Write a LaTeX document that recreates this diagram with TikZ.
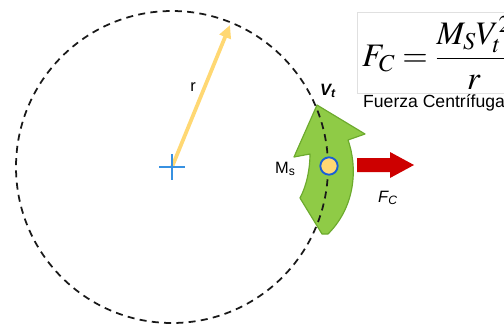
\documentclass[tikz,border=0pt]{standalone}
\usepackage{amsmath}
\usepackage{mathptmx}
\usepackage{fontspec}
\setmainfont{Liberation Sans}
\usetikzlibrary{arrows.meta, positioning}

\definecolor{leafgreen}{RGB}{143,203,70}
\definecolor{leafedge}{RGB}{108,170,45}
\definecolor{sandyellow}{RGB}{255,216,115}
\definecolor{crossblue}{RGB}{55,145,225}
\definecolor{ringblue}{RGB}{25,95,215}
\definecolor{forcered}{RGB}{205,0,0}

\begin{document}
\begin{tikzpicture}[
    x=0.03cm, y=-0.03cm,
    font=\fontsize{14}{16}\selectfont,
    orbit/.style={draw=black!90, line width=1.5pt, dash pattern=on 6pt off 4.5pt},
    radius arrow/.style={draw=sandyellow, line width=3.2pt, -{Triangle[length=11pt, width=10pt]}},
    mass node/.style={circle, draw=ringblue, fill=sandyellow, line width=1.6pt, minimum size=0.52cm, inner sep=0pt},
    label text/.style={inner sep=0pt}
]
    \useasboundingbox (0,0) rectangle (504,326);
    \clip (0,0) rectangle (504,326);

    % Centre and orbit
    \coordinate (c) at (172,167);
    \coordinate (rtip) at (230,25);
    \draw[radius arrow] (c) -- (rtip);
    \draw[crossblue, line width=1.6pt] (c) ++(-13,0) -- ++(26,0) (c) ++(0,-13) -- ++(0,26);
    \node[label text] (rlabel) at (193,87) {r};

    % Curved velocity arrow
    \draw[fill=leafgreen, draw=leafedge, line width=1pt, line join=round]
        (317,105) -- (365,134) -- (348,140)
        .. controls (357,165) and (357,205) .. (328,234) -- (322,234) -- (300,198)
        .. controls (307,185) and (310,168) .. (310,154) -- (294,157) -- cycle;

    \draw[orbit] (c) circle[radius=156];

    % Mass and force
    \node[mass node] (mass) at (329,166) {};
    \fill[forcered] (357,158) -- (390,158) -- (390,152) -- (414,165)
        -- (390,178) -- (390,172) -- (357,172) -- cycle;

    % Labels
    \node[label text, anchor=base west] (vt) at (320,95) {\bfseries\itshape V\textsubscript{t}};
    \node[label text, anchor=base west] (ms) at (275,173) {M\textsubscript{s}};
    \node[label text, anchor=base west] (fc) at (378,202) {\itshape F\textsubscript{C}};

    % Formula box
    \node[draw=black!12, fill=white, anchor=north west, minimum height=2.4cm,
        minimum width=5cm, inner xsep=3pt, text width=4.7cm, font=\fontsize{28}{33}\selectfont]
        (formula) at (357,12) {$F_C=\dfrac{M_S V_t^2}{r}$};
    \node[label text, anchor=base west, font=\fontsize{15}{17}\selectfont] (caption) at (363,107) {Fuerza Centrífuga};
\end{tikzpicture}
\end{document}
